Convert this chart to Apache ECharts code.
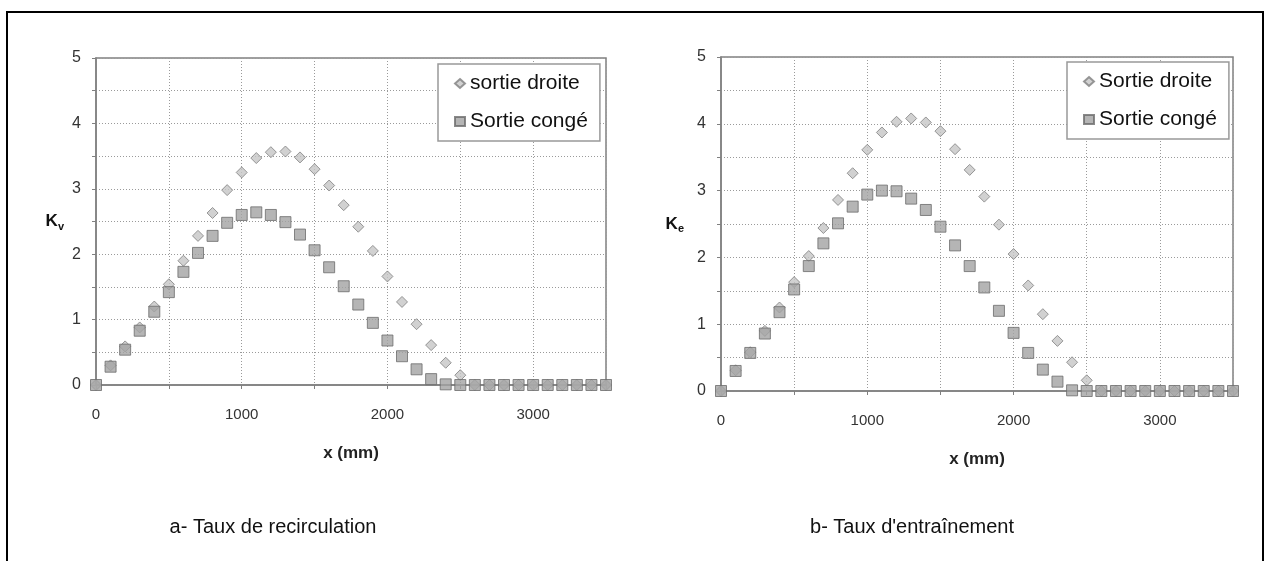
<!DOCTYPE html>
<html>
<head>
<meta charset="utf-8">
<script src="https://cdn.jsdelivr.net/npm/echarts@6/dist/echarts.min.js"></script>
<style>
  html, body { margin: 0; padding: 0; background: #fff; }
  #chart { width: 1267px; height: 561px; }
</style>
</head>
<body>
<div id="chart"></div>
<script>
// x positions (mm), one point every 100 mm
var xs = [0, 100, 200, 300, 400, 500, 600, 700, 800, 900, 1000, 1100, 1200, 1300, 1400, 1500, 1600, 1700,
  1800, 1900, 2000, 2100, 2200, 2300, 2400, 2500, 2600, 2700, 2800, 2900, 3000, 3100, 3200, 3300, 3400, 3500]

// a- Taux de recirculation (Kv)
var kvDroite = [0, 0.30, 0.59, 0.88, 1.20, 1.54, 1.90, 2.28, 2.63, 2.98, 3.25, 3.47, 3.56, 3.57, 3.48, 3.30, 3.05, 2.75,
  2.42, 2.05, 1.66, 1.27, 0.93, 0.61, 0.34, 0.15, 0, 0, 0, 0, 0, 0, 0, 0, 0, 0]
var kvConge = [0, 0.28, 0.54, 0.83, 1.12, 1.42, 1.73, 2.02, 2.28, 2.48, 2.60, 2.64, 2.60, 2.49, 2.30, 2.06, 1.80, 1.51,
  1.23, 0.95, 0.68, 0.44, 0.24, 0.09, 0.01, 0, 0, 0, 0, 0, 0, 0, 0, 0, 0, 0]

// b- Taux d'entraînement (Ke)
var keDroite = [0, 0.31, 0.58, 0.90, 1.25, 1.63, 2.02, 2.44, 2.86, 3.26, 3.61, 3.87, 4.03, 4.08, 4.02, 3.89, 3.62, 3.31,
  2.91, 2.49, 2.05, 1.58, 1.15, 0.75, 0.43, 0.16, 0, 0, 0, 0, 0, 0, 0, 0, 0, 0]
var keConge = [0, 0.30, 0.57, 0.86, 1.18, 1.52, 1.87, 2.21, 2.51, 2.76, 2.94, 3.00, 2.99, 2.88, 2.71, 2.46, 2.18, 1.87,
  1.55, 1.20, 0.87, 0.57, 0.32, 0.14, 0.01, 0, 0, 0, 0, 0, 0, 0, 0, 0, 0, 0]

var xTicks = [0, 1000, 2000, 3000]
var yTicks = [0, 1, 2, 3, 4, 5]

var font = "'Liberation Sans', Arial, sans-serif"
var gridGray = '#9a9a9a'
var axisGray = '#808080'

function pairs(vals) {
  return xs.map(function (x, i) { return [x, vals[i]] })
}

function xAxisOpt(gridIndex) {
  return {
    type: 'value', gridIndex: gridIndex, min: 0, max: 3500, interval: 500,
    name: 'x (mm)', nameLocation: 'middle', nameGap: 60,
    nameTextStyle: { fontFamily: font, fontSize: 17, fontWeight: 'bold', color: '#222' },
    axisLine: { lineStyle: { color: axisGray, width: 1.5 } },
    axisTick: { show: true, inside: false, length: 4, lineStyle: { color: axisGray } },
    axisLabel: {
      fontFamily: font, fontSize: 15, color: '#333', margin: 22,
      formatter: function (v) { return xTicks.indexOf(v) >= 0 ? String(v) : '' }
    },
    splitLine: { show: true, lineStyle: { color: gridGray, type: [1, 2], width: 1 } }
  }
}

function yAxisOpt(gridIndex, sub, gap) {
  return {
    type: 'value', gridIndex: gridIndex, min: 0, max: 5, interval: 0.5,
    name: '{k|K}{s|' + sub + '}', nameLocation: 'middle', nameRotate: 0, nameGap: gap,
    nameTextStyle: {
      rich: {
        k: { fontFamily: font, fontSize: 17, fontWeight: 'bold', color: '#111' },
        s: { fontFamily: font, fontSize: 11, fontWeight: 'bold', color: '#111', padding: [10, 0, 0, 0] }
      }
    },
    axisLine: { show: true, lineStyle: { color: axisGray, width: 1.5 } },
    axisTick: { show: true, length: 4, lineStyle: { color: axisGray } },
    axisLabel: {
      fontFamily: font, fontSize: 16, color: '#333', margin: 15,
      formatter: function (v) { return yTicks.indexOf(v) >= 0 ? String(v) : '' }
    },
    splitLine: { show: true, lineStyle: { color: gridGray, type: [1, 2], width: 1 } }
  }
}

function legendOpt(left, top, names) {
  return {
    left: left, top: top, orient: 'vertical', data: names,
    backgroundColor: '#fff', borderColor: '#999', borderWidth: 1.5,
    padding: [9, 12, 9, 16], itemGap: 17, itemWidth: 10, itemHeight: 9,
    textStyle: { fontFamily: font, fontSize: 21, color: '#111' }
  }
}

var diamondStyle = { color: '#c6c6c6', borderColor: '#7f7f7f', borderWidth: 1 }
var squareStyle = { color: '#a3a3a3', borderColor: '#6b6b6b', borderWidth: 1 }

var myChart = echarts.init(document.getElementById('chart'))
var option = {
  animation: false,
  backgroundColor: '#fff',
  grid: [
    { left: 96, right: 661, top: 58, bottom: 176, show: true, borderColor: axisGray, borderWidth: 1.5, backgroundColor: '#fff' },
    { left: 721, right: 34, top: 57, bottom: 170, show: true, borderColor: axisGray, borderWidth: 1.5, backgroundColor: '#fff' }
  ],
  xAxis: [xAxisOpt(0), xAxisOpt(1)],
  yAxis: [yAxisOpt(0, 'v', 32), yAxisOpt(1, 'e', 37)],
  legend: [
    legendOpt(438, 64, ['sortie droite', 'Sortie congé']),
    legendOpt(1067, 62, ['Sortie droite', 'Sortie congé'])
  ],
  series: [
    { name: 'sortie droite', type: 'scatter', xAxisIndex: 0, yAxisIndex: 0, symbol: 'diamond', symbolSize: 11,
      itemStyle: diamondStyle, data: pairs(kvDroite) },
    { name: 'Sortie congé', type: 'scatter', xAxisIndex: 0, yAxisIndex: 0, symbol: 'rect', symbolSize: 11,
      itemStyle: squareStyle, data: pairs(kvConge) },
    { name: 'Sortie droite', type: 'scatter', xAxisIndex: 1, yAxisIndex: 1, symbol: 'diamond', symbolSize: 11,
      itemStyle: diamondStyle, data: pairs(keDroite) },
    { name: 'Sortie congé', type: 'scatter', xAxisIndex: 1, yAxisIndex: 1, symbol: 'rect', symbolSize: 11,
      itemStyle: squareStyle, data: pairs(keConge) }
  ],
  graphic: [
    { type: 'rect', z: -10, silent: true, shape: { x: 7, y: 12, width: 1256, height: 600 },
      style: { fill: 'none', stroke: '#000', lineWidth: 2 } },
    { type: 'text', silent: true, x: 273, y: 527,
      style: { text: 'a- Taux de recirculation', font: '20px ' + font, fill: '#111', textAlign: 'center', textVerticalAlign: 'middle' } },
    { type: 'text', silent: true, x: 912, y: 527,
      style: { text: "b- Taux d'entraînement", font: '20px ' + font, fill: '#111', textAlign: 'center', textVerticalAlign: 'middle' } }
  ]
}
myChart.setOption(option)

window.addEventListener('resize', function () {
  myChart.resize()
})
</script>
</body>
</html>
